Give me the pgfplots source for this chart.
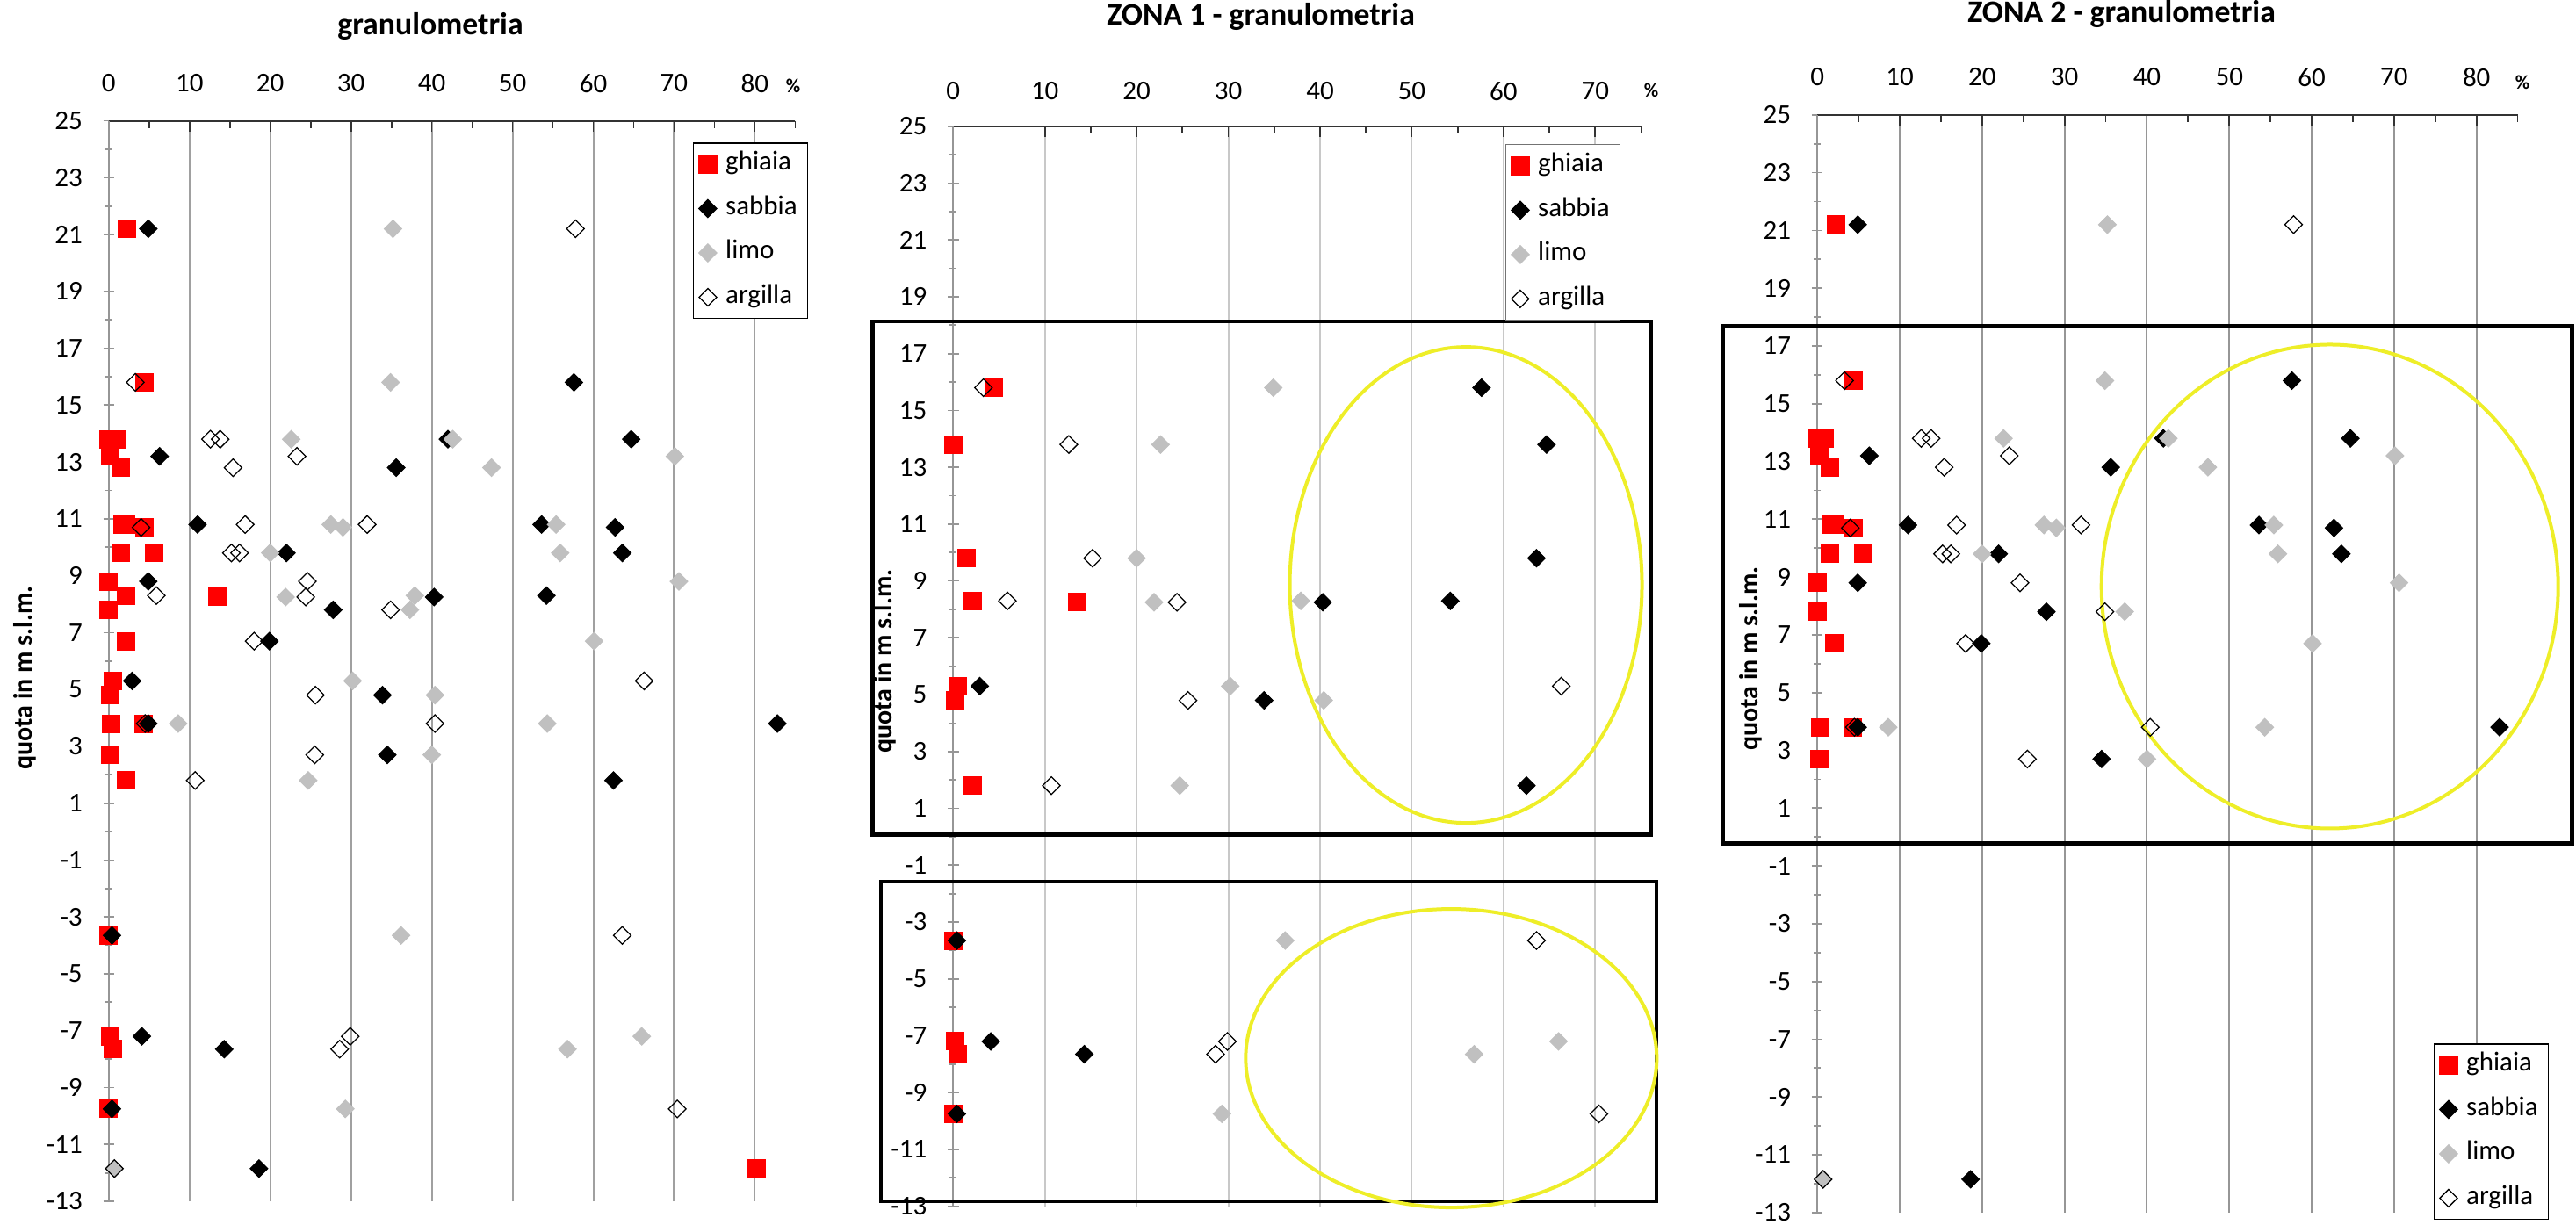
\documentclass[border=0pt]{standalone}
\usepackage{pgfplots}
\usepackage{pgfplotstable}
\pgfplotsset{compat=1.18}
\usepackage{fontspec}
\setmainfont{Carlito}

\definecolor{limogray}{RGB}{192,192,192}
\definecolor{ovalyellow}{RGB}{238,238,40}
\definecolor{gridA}{RGB}{160,160,160}
\definecolor{gridB}{RGB}{200,200,200}
\definecolor{gridC}{RGB}{150,150,150}
\definecolor{axisgray}{RGB}{150,150,150}

\newcommand\tickfont{\fontsize{12.4pt}{14pt}\selectfont}
\newcommand\titlefont{\fontsize{14.3pt}{17pt}\selectfont\bfseries}
\newcommand\labfont{\fontsize{12pt}{14pt}\selectfont\bfseries}
\newcommand\pctfont{\fontsize{9pt}{10pt}\selectfont\bfseries}

% quota (m s.l.m.) and percentages: g = ghiaia, s = sabbia, l = limo, a = argilla
\pgfplotstableread{
quota g s l a
21.2 2.3 4.9 35.2 57.8
15.8 4.4 57.6 34.9 3.3
13.8 0.0 64.7 22.6 12.6
13.8 0.9 42.0 42.6 13.8
13.2 0.2 6.3 70.1 23.3
12.8 1.5 35.6 47.4 15.4
10.8 2.1 53.6 27.5 16.9
10.8 1.7 11.0 55.4 32.0
10.7 4.4 62.7 29.0 4.0
9.8 1.5 63.6 20.0 15.2
9.8 5.6 22.0 55.9 16.2
8.8 0.0 4.9 70.6 24.6
8.3 2.1 54.2 37.9 5.9
8.25 13.5 40.3 21.9 24.4
7.8 0.0 27.8 37.3 34.9
6.7 2.1 19.9 60.1 18.0
5.3 0.5 2.9 30.2 66.3
4.8 0.2 33.9 40.4 25.6
3.8 4.3 82.8 8.6 4.5
3.8 0.3 4.9 54.3 40.4
2.7 0.2 34.5 40.0 25.5
1.8 2.1 62.5 24.7 10.7
-3.65 0.0 0.4 36.2 63.6
-7.2 0.2 4.1 66.0 29.9
-7.65 0.5 14.3 56.8 28.6
-9.75 0.0 0.4 29.3 70.4
-11.85 80.2 18.6 0.7 0.7
}\tutti

\pgfplotstableread{
quota g s l a
15.8 4.4 57.6 34.9 3.3
13.8 0.0 64.7 22.6 12.6
9.8 1.5 63.6 20.0 15.2
8.3 2.1 54.2 37.9 5.9
8.25 13.5 40.3 21.9 24.4
5.3 0.5 2.9 30.2 66.3
4.8 0.2 33.9 40.4 25.6
1.8 2.1 62.5 24.7 10.7
-3.65 0.0 0.4 36.2 63.6
-7.2 0.2 4.1 66.0 29.9
-7.65 0.5 14.3 56.8 28.6
-9.75 0.0 0.4 29.3 70.4
}\zonauno

\pgfplotstableread{
quota g s l a
21.2 2.3 4.9 35.2 57.8
15.8 4.4 57.6 34.9 3.3
13.8 0.0 64.7 22.6 12.6
13.8 0.9 42.0 42.6 13.8
13.2 0.2 6.3 70.1 23.3
12.8 1.5 35.6 47.4 15.4
10.8 2.1 53.6 27.5 16.9
10.8 1.7 11.0 55.4 32.0
10.7 4.4 62.7 29.0 4.0
9.8 1.5 63.6 20.0 15.2
9.8 5.6 22.0 55.9 16.2
8.8 0.0 4.9 70.6 24.6
7.8 0.0 27.8 37.3 34.9
6.7 2.1 19.9 60.1 18.0
3.8 4.3 82.8 8.6 4.5
3.8 0.3 4.9 54.3 40.4
2.7 0.2 34.5 40.0 25.5
-11.85 80.2 18.6 0.7 0.7
}\zonadue

\pgfplotsset{
  every non boxed x axis/.style={},
  every non boxed y axis/.style={},
  every axis title shift=0pt,
  ghiaia/.style={only marks, mark=square*, mark size=4pt,
    mark options={draw=red, fill=red},
    legend image code/.code={\draw[##1] plot coordinates {(0pt,0pt)};}},
  sabbia/.style={only marks, mark=square*, mark size=2.83pt,
    mark options={rotate=45, draw=black, fill=black},
    legend image code/.code={\draw[##1] plot coordinates {(0pt,0pt)};}},
  limo/.style={only marks, mark=square*, mark size=2.83pt,
    mark options={rotate=45, draw=limogray, fill=limogray},
    legend image code/.code={\draw[##1] plot coordinates {(0pt,0pt)};}},
  argilla/.style={only marks, mark=square, mark size=2.83pt,
    mark options={rotate=45, draw=black, line width=0.5pt},
    legend image code/.code={\draw[##1] plot coordinates {(0pt,0pt)};}},
  granbase/.style={
    scale only axis,
    anchor=north west,
    axis x line=top,
    axis y line=left,
    x axis line style={-, black!80, line width=0.8pt},
    y axis line style={-, axisgray, line width=0.8pt},
    xmin=0, ymin=-13, ymax=25,
    ytick={-13,-11,...,25},
    yticklabels={-13,-11,-9,-7,-5,-3,-1,1,3,5,7,9,11,13,15,17,19,21,23,25},
    minor ytick={-12,-10,...,24},
    xtick align=inside,
    ytick align=center,
    major tick length=5pt,
    minor tick length=3.2pt,
    every major x tick/.append style={black!80, line width=0.7pt},
    every minor x tick/.append style={black!80, line width=0.7pt},
    every major y tick/.append style={axisgray, line width=0.7pt},
    every minor y tick/.append style={axisgray, line width=0.7pt},
    xmajorgrids,
    tick label style={font=\tickfont},
    yticklabel style={xshift=-6pt},
    clip=false,
    legend cell align=left,
    legend style={font=\tickfont, fill=white, line width=0.6pt,
      anchor=north west, inner xsep=2.5pt, inner ysep=4.4pt, row sep=9.7pt,
      column sep=1.8pt,
      nodes={inner xsep=2.3pt, inner ysep=0pt, text height=8pt, text depth=2.5pt}},
    title style={font=\titlefont, anchor=center},
    ylabel style={font=\labfont, anchor=center},
    ylabel={quota in m s.l.m.},
  },
}

\begin{document}
\begin{tikzpicture}
\useasboundingbox (0pt,0pt) rectangle (1173.2pt,-557.6pt);
\fill[white] (0pt,0pt) rectangle (1173.2pt,-557.6pt);

% all samples
\begin{axis}[granbase,
  at={(49.52pt,-55pt)}, width=312.64pt, height=492.2pt,
  xmax=85, xtick={0,10,...,80}, xticklabels={0,10,20,30,40,50,60,70,80},
  minor xtick={5,15,...,85},
  major grid style={gridA, line width=0.8pt},
  xticklabel style={anchor=center, yshift=17pt},
  title={granulometria},
  title style={at={(axis description cs:0.4685,1.0874)}},
  ylabel style={at={(axis description cs:-0.1226,0.4844)}},
  legend style={at={(axis description cs:0.851,0.980)}, draw=black},
]
\addplot[ghiaia] table[x=g, y=quota] {\tutti};
\addplot[sabbia] table[x=s, y=quota] {\tutti};
\addplot[limo] table[x=l, y=quota] {\tutti};
\addplot[argilla] table[x=a, y=quota] {\tutti};
\legend{ghiaia,sabbia,limo,argilla}
\node[font=\pctfont] at (axis description cs:0.997,1.0321) {\%};
\end{axis}

% zona 1
\begin{axis}[granbase,
  at={(434.12pt,-57.48pt)}, width=313.28pt, height=492pt,
  xmax=75, xtick={0,10,...,70}, xticklabels={0,10,20,30,40,50,60,70},
  minor xtick={5,15,...,75},
  major grid style={gridB, line width=0.8pt},
  xticklabel style={anchor=center, yshift=16pt},
  title={ZONA 1 - granulometria},
  title style={at={(axis description cs:0.4473,1.1016)}},
  ylabel style={at={(axis description cs:-0.0993,0.5046)}},
  legend style={at={(axis description cs:0.8027,0.9835)}, draw=black!55},
]
\addplot[ghiaia] table[x=g, y=quota] {\zonauno};
\addplot[sabbia] table[x=s, y=quota] {\zonauno};
\addplot[limo] table[x=l, y=quota] {\zonauno};
\addplot[argilla] table[x=a, y=quota] {\zonauno};
\legend{ghiaia,sabbia,limo,argilla}
\node[font=\pctfont] at (axis description cs:1.0147,1.0333) {\%};
\draw[black, line width=1.8pt] (axis cs:-8.79,18.13) rectangle (axis cs:76.1,0.08);
\draw[black, line width=1.8pt] (axis cs:-7.88,-1.58) rectangle (axis cs:76.7,-12.82);
\draw[ovalyellow, line width=1.6pt] (axis cs:55.9,8.86) ellipse [x radius=80.2pt, y radius=108.4pt];
\draw[ovalyellow, line width=1.6pt] (axis cs:54.3,-7.79) ellipse [x radius=93.6pt, y radius=68pt];
\end{axis}

% zona 2
\begin{axis}[granbase,
  at={(827.68pt,-52.32pt)}, width=318.96pt, height=500pt,
  xmax=85, xtick={0,10,...,80}, xticklabels={0,10,20,30,40,50,60,70,80},
  minor xtick={5,15,...,85},
  major grid style={gridC, line width=0.8pt},
  xticklabel style={anchor=center, yshift=17.2pt},
  title={ZONA 2 - granulometria},
  title style={at={(axis description cs:0.4344,1.0918)}},
  ylabel style={at={(axis description cs:-0.0946,0.5046)}},
  legend style={at={(axis description cs:0.880,0.1542)}, draw=black},
]
\addplot[ghiaia] table[x=g, y=quota] {\zonadue};
\addplot[sabbia] table[x=s, y=quota] {\zonadue};
\addplot[limo] table[x=l, y=quota] {\zonadue};
\addplot[argilla] table[x=a, y=quota] {\zonadue};
\legend{ghiaia,sabbia,limo,argilla}
\node[font=\pctfont] at (axis description cs:1.0068,1.0297) {\%};
\draw[black, line width=1.8pt] (axis cs:-11.43,17.69) rectangle (axis cs:91.6,-0.22);
\draw[ovalyellow, line width=1.6pt] (axis cs:62.2,8.67) ellipse [x radius=104pt, y radius=110.2pt];
\end{axis}
\end{tikzpicture}
\end{document}
